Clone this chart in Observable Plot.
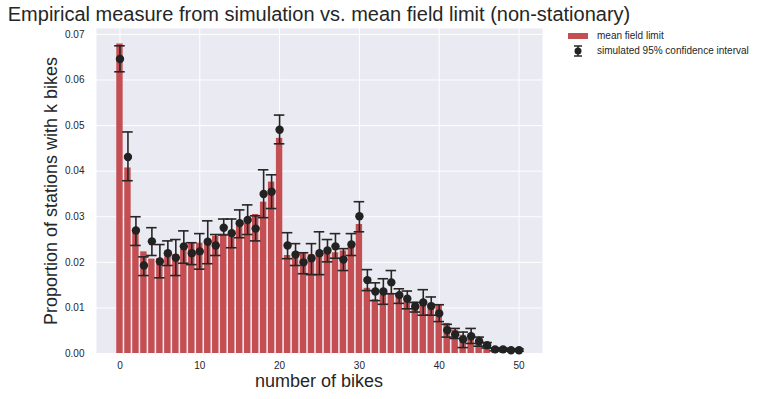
<!DOCTYPE html>
<html>
<head>
<meta charset="utf-8">
<script src="https://cdn.jsdelivr.net/npm/d3@7"></script>
<script src="https://cdn.jsdelivr.net/npm/@observablehq/plot@0.6"></script>
<style>
  html, body { margin: 0; padding: 0; background: #ffffff; }
  body { font-family: "Liberation Sans", Arial, sans-serif; color: #262626; }
  #wrap { position: relative; width: 760px; height: 399px; overflow: hidden; }
  #chart { position: absolute; left: 0; top: 0; }
  .title { position: absolute; left: 0; width: 638px; top: 3px; text-align: center; font-size: 20px; white-space: nowrap; }
  .xlabel { position: absolute; left: 96px; width: 446px; top: 371px; text-align: center; font-size: 18px; white-space: nowrap; }
  .ylabel { position: absolute; left: 51px; top: 191px; width: 0; height: 0; }
  .ylabel span { position: absolute; left: 0; top: 0; font-size: 18px; white-space: nowrap; transform: translate(-50%, -50%) rotate(-90deg); }
  .legend { position: absolute; left: 566px; top: 28px; font-size: 10px; }
  .legend .row { display: flex; align-items: center; height: 15px; }
  .legend svg { margin-right: 7px; }
</style>
</head>
<body>
<div id="wrap">
  <div class="title">Empirical measure from simulation vs. mean field limit (non-stationary)</div>
  <div id="chart"></div>
  <div class="xlabel">number of bikes</div>
  <div class="ylabel"><span>Proportion of stations with k bikes</span></div>
  <div class="legend">
    <div class="row"><svg width="24" height="10"><rect x="2" y="2" width="20" height="6" fill="#C44E52"></rect></svg><span>mean field limit</span></div>
    <div class="row"><svg width="24" height="12"><line x1="12" y1="1" x2="12" y2="11" stroke="#262626" stroke-width="1.5"></line><line x1="8" y1="1" x2="16" y2="1" stroke="#262626" stroke-width="1.5"></line><line x1="8" y1="11" x2="16" y2="11" stroke="#262626" stroke-width="1.5"></line><circle cx="12" cy="6" r="3.5" fill="#222222"></circle></svg><span>simulated 95% confidence interval</span></div>
  </div>
</div>
<script>
const bikes = d3.range(0, 51);
const meanField = [
  0.0679, 0.0407, 0.0265, 0.0223, 0.0207, 0.0208, 0.0212, 0.0217, 0.0229, 0.0243,
  0.0242, 0.0249, 0.0257, 0.0262, 0.0258, 0.0280, 0.0285, 0.0305, 0.0332, 0.0376,
  0.0472, 0.0215, 0.0219, 0.0220, 0.0217, 0.0216, 0.0219, 0.0221, 0.0225, 0.0233,
  0.0283, 0.0143, 0.0118, 0.0128, 0.0132, 0.0128, 0.0120, 0.0113, 0.0106, 0.0107,
  0.0107, 0.0066, 0.0051, 0.0040, 0.0033, 0.0029, 0.0022, 0.0011, 0.0010, 0.0008,
  0.0007
];
const simMean = [
  0.0646, 0.0431, 0.0270, 0.0193, 0.0246, 0.0202, 0.0220, 0.0210, 0.0235, 0.0220,
  0.0224, 0.0245, 0.0237, 0.0276, 0.0264, 0.0286, 0.0293, 0.0274, 0.0350, 0.0355,
  0.0491, 0.0237, 0.0217, 0.0200, 0.0209, 0.0220, 0.0226, 0.0235, 0.0206, 0.0239,
  0.0301, 0.0161, 0.0136, 0.0136, 0.0156, 0.0128, 0.0120, 0.0103, 0.0112, 0.0104,
  0.0088, 0.0051, 0.0042, 0.0031, 0.0038, 0.0027, 0.0018, 0.0009, 0.0009, 0.0007,
  0.0007
];
const simLow = [
  0.0618, 0.0379, 0.0237, 0.0171, 0.0215, 0.0166, 0.0193, 0.0171, 0.0198, 0.0195,
  0.0185, 0.0197, 0.0215, 0.0260, 0.0232, 0.0254, 0.0261, 0.0247, 0.0298, 0.0318,
  0.0460, 0.0208, 0.0193, 0.0175, 0.0173, 0.0173, 0.0201, 0.0209, 0.0182, 0.0215,
  0.0267, 0.0138, 0.0116, 0.0108, 0.0131, 0.0110, 0.0098, 0.0091, 0.0084, 0.0084,
  0.0070, 0.0036, 0.0033, 0.0013, 0.0022, 0.0016, 0.0012, 0.0006, 0.0006, 0.0005,
  0.0005
];
const simHigh = [
  0.0675, 0.0486, 0.0300, 0.0212, 0.0276, 0.0239, 0.0247, 0.0250, 0.0269, 0.0243,
  0.0263, 0.0291, 0.0261, 0.0295, 0.0295, 0.0315, 0.0326, 0.0302, 0.0403, 0.0392,
  0.0523, 0.0265, 0.0241, 0.0221, 0.0241, 0.0267, 0.0250, 0.0263, 0.0230, 0.0263,
  0.0333, 0.0184, 0.0155, 0.0164, 0.0182, 0.0142, 0.0137, 0.0112, 0.0140, 0.0124,
  0.0107, 0.0064, 0.0055, 0.0047, 0.0055, 0.0036, 0.0024, 0.0012, 0.0012, 0.0010,
  0.0010
];
const xTicks = [0, 10, 20, 30, 40, 50];
const yTicks = [0, 0.01, 0.02, 0.03, 0.04, 0.05, 0.06, 0.07];

const data = bikes.map((k, i) => ({k, mf: meanField[i], m: simMean[i], lo: simLow[i], hi: simHigh[i]}));

const barHalf = 0.4;
const capHalf = 0.66;
const yMax = d3.max(meanField) * 1.05;

const chart = Plot.plot({
  width: 760,
  height: 399,
  marginLeft: 96,
  marginRight: 218,
  marginTop: 28,
  marginBottom: 46,
  style: { fontFamily: "Liberation Sans, Arial, sans-serif", fontSize: "10px", color: "#262626", background: "transparent" },
  x: { domain: [-2.94, 52.94] },
  y: { domain: [0, yMax] },
  marks: [
    Plot.frame({ fill: "#EAEAF2", stroke: null }),
    Plot.gridX(xTicks, { stroke: "#ffffff", strokeOpacity: 1, strokeWidth: 1 }),
    Plot.gridY(yTicks, { stroke: "#ffffff", strokeOpacity: 1, strokeWidth: 1 }),
    Plot.axisX(xTicks, { tickSize: 0, tickPadding: 8, label: null, tickFormat: d3.format("d") }),
    Plot.axisY(yTicks, { tickSize: 0, tickPadding: 12, label: null, tickFormat: d3.format(".2f") }),
    Plot.rectY(data, { x1: d => d.k - barHalf, x2: d => d.k + barHalf, y1: 0, y2: "mf", fill: "#C44E52" }),
    Plot.ruleX(data, { x: "k", y1: "lo", y2: "hi", stroke: "#262626", strokeWidth: 1.6 }),
    Plot.ruleY(data, { y: "lo", x1: d => d.k - capHalf, x2: d => d.k + capHalf, stroke: "#262626", strokeWidth: 1.6 }),
    Plot.ruleY(data, { y: "hi", x1: d => d.k - capHalf, x2: d => d.k + capHalf, stroke: "#262626", strokeWidth: 1.6 }),
    Plot.dot(data, { x: "k", y: "m", r: 4.2, fill: "#222222", stroke: null })
  ]
});
document.getElementById("chart").appendChild(chart);
</script>
</body>
</html>
